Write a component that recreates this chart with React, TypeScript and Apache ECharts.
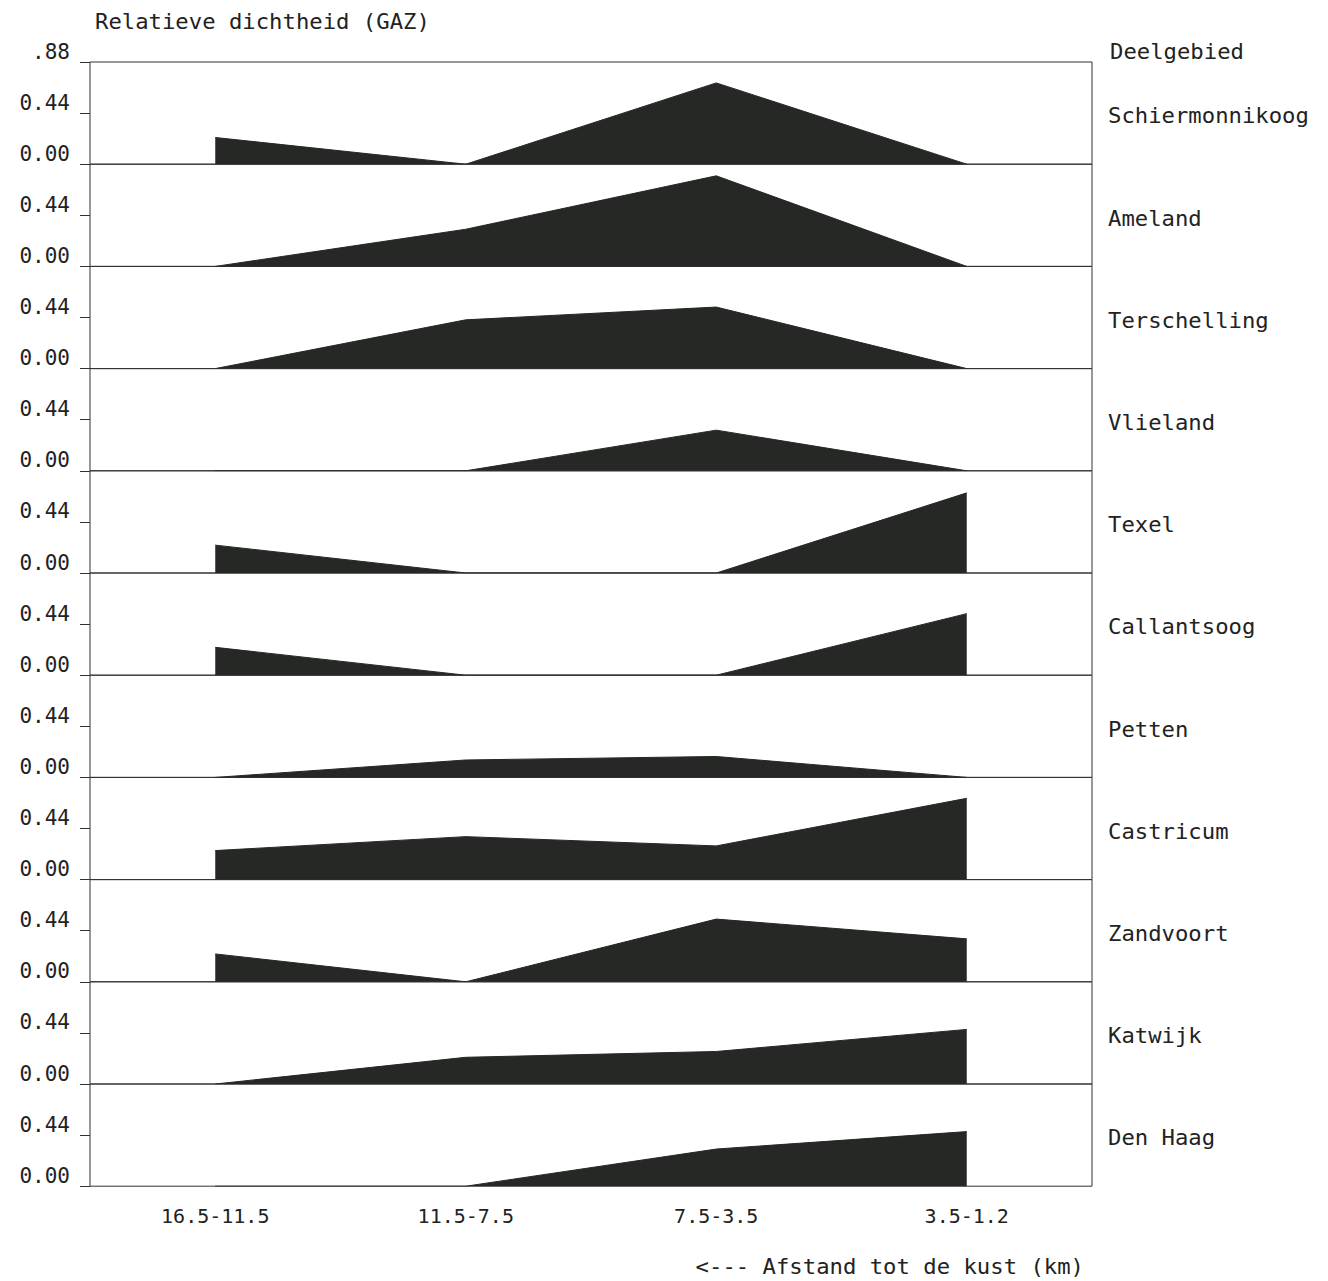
import React, { useEffect, useRef } from "react";
import * as echarts from "echarts";

const categories = ["16.5-11.5", "11.5-7.5", "7.5-3.5", "3.5-1.2"];
const regions = [
  "Schiermonnikoog",
  "Ameland",
  "Terschelling",
  "Vlieland",
  "Texel",
  "Callantsoog",
  "Petten",
  "Castricum",
  "Zandvoort",
  "Katwijk",
  "Den Haag",
];
const schiermonnikoog = [0.23, 0, 0.7, 0];
const ameland = [0, 0.32, 0.78, 0];
const terschelling = [0, 0.42, 0.53, 0];
const vlieland = [0, 0, 0.35, 0];
const texel = [0.24, 0, 0, 0.69];
const callantsoog = [0.24, 0, 0, 0.53];
const petten = [0, 0.15, 0.18, 0];
const castricum = [0.25, 0.37, 0.29, 0.7];
const zandvoort = [0.24, 0, 0.54, 0.37];
const katwijk = [0, 0.23, 0.28, 0.47];
const denHaag = [0, 0, 0.32, 0.47];
const seriesValues = [
  schiermonnikoog,
  ameland,
  terschelling,
  vlieland,
  texel,
  callantsoog,
  petten,
  castricum,
  zandvoort,
  katwijk,
  denHaag,
];
const yTickLabels = ["0.00", "0.44", ".88"];
const yTitle = "Relatieve dichtheid (GAZ)";
const legendTitle = "Deelgebied";
const xTitle = "<--- Afstand tot de kust (km)";

const FONT = "'DejaVu Sans Mono', 'Liberation Mono', monospace";
const TEXT = "#222";
const LINE = "#333";
const FILL = "#262826";

export default function App() {
  const ref = useRef<HTMLDivElement>(null);
  useEffect(() => {
    if (!ref.current) return;
    const chart = echarts.init(ref.current, null, { renderer: "svg" });
    const top0 = 62;
    const h = 102.2;
    const left = 90;
    const right = 236;
    const n = regions.length;
    const grids: any[] = [];
    const xAxes: any[] = [];
    const yAxes: any[] = [];
    const series: any[] = [];
    const graphics: any[] = [];
    const sx = 1.06;
    for (let i = 0; i < n; i++) {
      grids.push({
        left,
        right,
        top: top0 + i * h,
        height: h,
        show: true,
        borderColor: LINE,
        borderWidth: 1,
        backgroundColor: "transparent",
      });
      xAxes.push({
        type: "category",
        gridIndex: i,
        data: categories,
        boundaryGap: true,
        axisLine: { show: false },
        axisTick: { show: false },
        axisLabel: {
          show: i === n - 1,
          fontFamily: FONT,
          fontSize: 20,
          color: TEXT,
          margin: 20,
        },
        splitLine: { show: false },
      });
      yAxes.push({
        type: "value",
        gridIndex: i,
        min: 0,
        max: 0.88,
        interval: 0.44,
        axisLine: { show: false },
        axisTick: { show: true, length: 10, lineStyle: { color: LINE } },
        splitLine: { show: false },
        axisLabel: {
          fontFamily: FONT,
          fontSize: 21,
          color: TEXT,
          margin: 20,
          verticalAlign: "bottom",
          showMaxLabel: true,
          showMinLabel: true,
          formatter: (v: number) => {
            if (Math.abs(v) < 1e-6) return yTickLabels[0];
            if (Math.abs(v - 0.44) < 1e-6) return yTickLabels[1];
            return i === 0 ? yTickLabels[2] : "";
          },
        },
      });
      series.push({
        type: "line",
        name: regions[i],
        xAxisIndex: i,
        yAxisIndex: i,
        data: seriesValues[i],
        showSymbol: false,
        symbol: "none",
        lineStyle: { color: FILL, width: 1 },
        areaStyle: { color: FILL, opacity: 1 },
        z: 1,
      });
      graphics.push({
        type: "text",
        x: 1108,
        y: top0 + i * h + h / 2 + 3,
        scaleX: sx,
        style: {
          text: regions[i],
          font: `21px ${FONT}`,
          fill: TEXT,
          textAlign: "left",
          textVerticalAlign: "middle",
        },
      });
    }
    graphics.push({
      type: "text",
      x: 1110,
      y: 52,
      scaleX: sx,
      style: {
        text: legendTitle,
        font: `21px ${FONT}`,
        fill: TEXT,
        textAlign: "left",
        textVerticalAlign: "middle",
      },
    });
    graphics.push({
      type: "text",
      x: 95,
      y: 22,
      scaleX: sx,
      style: {
        text: yTitle,
        font: `21px ${FONT}`,
        fill: TEXT,
        textAlign: "left",
        textVerticalAlign: "middle",
      },
    });
    graphics.push({
      type: "text",
      x: 1084,
      y: 1267,
      scaleX: sx,
      style: {
        text: xTitle,
        font: `21px ${FONT}`,
        fill: TEXT,
        textAlign: "right",
        textVerticalAlign: "middle",
      },
    });
    chart.setOption({
      animation: false,
      backgroundColor: "#ffffff",
      grid: grids,
      xAxis: xAxes,
      yAxis: yAxes,
      series,
      graphic: graphics,
    });
    return () => chart.dispose();
  }, []);
  return (
    <div
      ref={ref}
      style={{ position: "fixed", left: 0, top: 0, width: 1328, height: 1281 }}
    />
  );
}
